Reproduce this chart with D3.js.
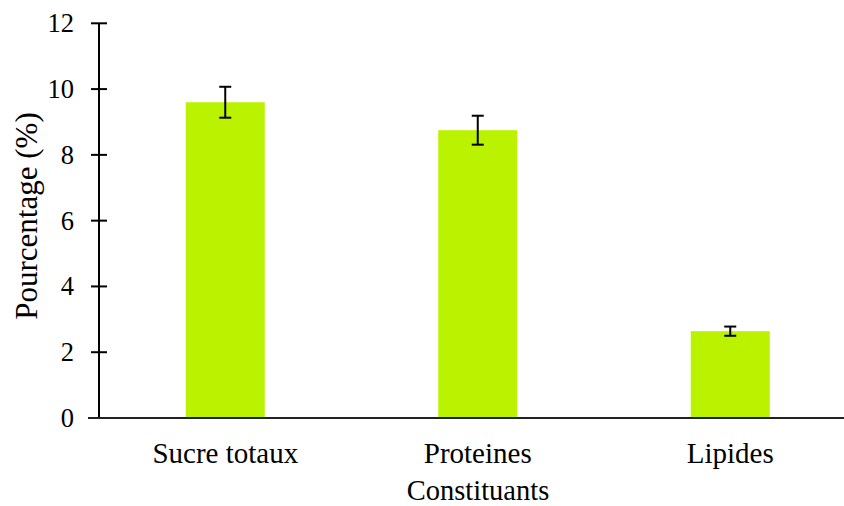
<!DOCTYPE html>
<html><head><meta charset="utf-8">
<script src="https://cdn.jsdelivr.net/npm/d3@7"></script>
<style>body{margin:0;background:#fff}svg{display:block}svg text{font-family:"Liberation Serif","Times New Roman",Times,serif}</style>
</head><body>
<svg id="c" width="844" height="506"></svg>
<script>
const categories = ["Sucre totaux", "Proteines", "Lipides"];
const values = [9.6, 8.75, 2.64];
const errors = [0.47, 0.44, 0.14];
const yTicks = [0, 2, 4, 6, 8, 10, 12];
const xTitle = "Constituants";
const yTitle = "Pourcentage (%)";

const svg = d3.select("#c");
const y = d3.scaleLinear().domain([0, 12]).range([418, 23.3]);
const x = d3.scaleBand().domain(categories).range([99, 856.5]).padding(0);
const barW = x.bandwidth() * 0.313;

svg.selectAll("rect.bar").data(categories).join("rect")
  .attr("x", (d) => x(d) + x.bandwidth() / 2 - barW / 2)
  .attr("width", barW)
  .attr("y", (d, i) => y(values[i]))
  .attr("height", (d, i) => y(0) - y(values[i]))
  .attr("fill", "#bbf200");

const eg = svg.append("g").attr("stroke", "#000").attr("stroke-width", 2);
categories.forEach((c, i) => {
  const cx = x(c) + x.bandwidth() / 2;
  eg.append("line").attr("x1", cx).attr("x2", cx).attr("y1", y(values[i] + errors[i])).attr("y2", y(values[i] - errors[i]));
  eg.append("line").attr("x1", cx - 6).attr("x2", cx + 6).attr("y1", y(values[i] + errors[i])).attr("y2", y(values[i] + errors[i]));
  eg.append("line").attr("x1", cx - 6).attr("x2", cx + 6).attr("y1", y(values[i] - errors[i])).attr("y2", y(values[i] - errors[i]));
});

const yAxis = d3.axisLeft(y).tickValues(yTicks).tickSize(0).tickPadding(25);
const yg = svg.append("g").attr("transform", "translate(99,0)").call(yAxis);
yg.attr("font-family", null);
yg.select(".domain").remove();
yg.selectAll("text").attr("font-size", 26.5).attr("fill", "#000");
svg.append("line").attr("x1", 99).attr("x2", 99).attr("y1", y(12)).attr("y2", y(0)).attr("stroke", "#000").attr("stroke-width", 2);
svg.selectAll("line.yt").data(yTicks).join("line").attr("class", "yt")
  .attr("x1", 91).attr("x2", 107).attr("y1", (d) => y(d)).attr("y2", (d) => y(d))
  .attr("stroke", "#000").attr("stroke-width", 2);

svg.append("line").attr("x1", 88).attr("x2", 844).attr("y1", y(0)).attr("y2", y(0)).attr("stroke", "#222").attr("stroke-width", 2);
const xAxis = d3.axisBottom(x).tickSize(0).tickPadding(0);
const xg = svg.append("g").attr("transform", "translate(0,463)").call(xAxis);
xg.attr("font-family", null);
xg.select(".domain").remove();
xg.selectAll("text").attr("dy", 0).attr("font-size", 29).attr("fill", "#000");

svg.append("text").attr("x", 478).attr("y", 500).attr("text-anchor", "middle")
  .attr("font-size", 28.5).text(xTitle);
svg.append("text").attr("transform", "translate(37,216) rotate(-90)").attr("text-anchor", "middle")
  .attr("font-size", 31).text(yTitle);
</script>
</body></html>
